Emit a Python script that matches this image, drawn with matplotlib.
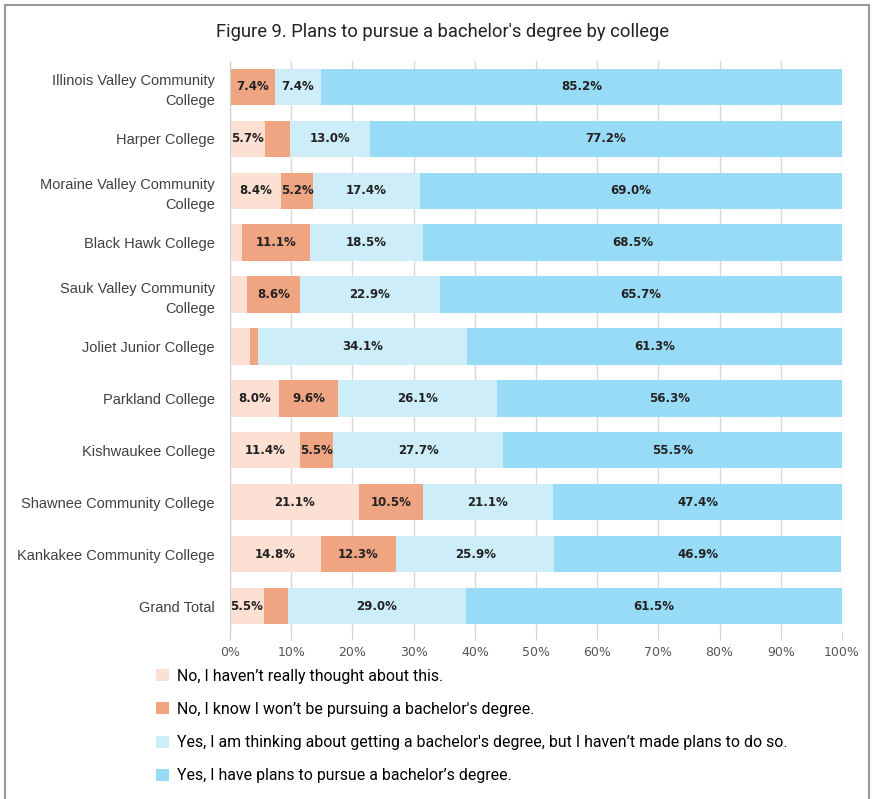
import matplotlib
matplotlib.use("Agg")
from matplotlib import pyplot as plt
from matplotlib.patches import Rectangle
import numpy as np

colleges = ["Illinois Valley Community\nCollege", "Harper College",
            "Moraine Valley Community\nCollege", "Black Hawk College",
            "Sauk Valley Community\nCollege", "Joliet Junior College",
            "Parkland College", "Kishwaukee College",
            "Shawnee Community College", "Kankakee Community College",
            "Grand Total"]
not_thought = [0.0, 5.7, 8.4, 1.9, 2.8, 3.3, 8.0, 11.4, 21.1, 14.8, 5.5]
wont_pursue = [7.4, 4.1, 5.2, 11.1, 8.6, 1.3, 9.6, 5.5, 10.5, 12.3, 4.0]
thinking = [7.4, 13.0, 17.4, 18.5, 22.9, 34.1, 26.1, 27.7, 21.1, 25.9, 29.0]
have_plans = [85.2, 77.2, 69.0, 68.5, 65.7, 61.3, 56.3, 55.5, 47.4, 46.9, 61.5]

series_names = ["No, I haven\u2019t really thought about this.",
                "No, I know I won\u2019t be pursuing a bachelor's degree.",
                "Yes, I am thinking about getting a bachelor's degree, but I haven\u2019t made plans to do so.",
                "Yes, I have plans to pursue a bachelor\u2019s degree."]
colors = ["#FBE0D3", "#EFA482", "#CDEDF9", "#98DBF6"]
series = [not_thought, wont_pursue, thinking, have_plans]

narrow = ["Roboto", "DejaVu Sans"]
plain = ["Liberation Sans", "DejaVu Sans"]

fig = plt.figure(figsize=(8.72, 7.99), dpi=100)
fig.patches.append(Rectangle((0.006, -0.01), 0.991, 1.004, transform=fig.transFigure,
                             fill=False, edgecolor="#9a9a9a", linewidth=1.5))
ax = fig.add_axes([0.2638, 0.209, 0.7018, 0.7147])

y = np.arange(len(colleges))
left = np.zeros(len(colleges))
for vals, name, c in zip(series, series_names, colors):
    vals = np.array(vals)
    ax.barh(y, vals, left=left, height=0.7, color=c, label=name, zorder=2)
    for yi, v, l in zip(y, vals, left):
        # small segments are left unlabeled like the original
        if v >= 5.0:
            ax.text(l + v / 2, yi, f"{v:.1f}%", ha="center", va="center",
                    fontsize=8.5, fontweight="bold", color="#222222", zorder=3)
    left += vals

ax.set_xlim(0, 100)
ax.set_ylim(len(colleges) - 0.5, -0.5)
ax.set_yticks(y)
ax.set_yticklabels(colleges, fontsize=10.5, color="#404040", linespacing=1.5,
                   family=plain)
ax.set_xticks(np.arange(0, 101, 10))
ax.set_xticklabels([f"{v}%" for v in range(0, 101, 10)], fontsize=9, color="#555555")
ax.tick_params(axis="y", length=0, pad=11)
ax.tick_params(axis="x", length=6, color="#d0d0d0", pad=4)
ax.grid(axis="x", color="#d9d9d9", linewidth=1, zorder=0)
for s in ["top", "right", "bottom"]:
    ax.spines[s].set_visible(False)
ax.spines["left"].set_color("#d0d0d0")

fig.text(0.507, 0.960, "Figure 9. Plans to pursue a bachelor's degree by college",
         ha="center", va="center", fontsize=13.2, family=narrow, color="#222222")

handles, labels = ax.get_legend_handles_labels()
fig.legend(handles, labels, loc="upper left", bbox_to_anchor=(0.17, 0.173),
           frameon=False, prop={"family": narrow, "size": 11.4}, handlelength=0.8,
           handleheight=0.8, handletextpad=0.5, labelspacing=1.15, borderpad=0)

plt.savefig("out.png", dpi=100, facecolor="white")
